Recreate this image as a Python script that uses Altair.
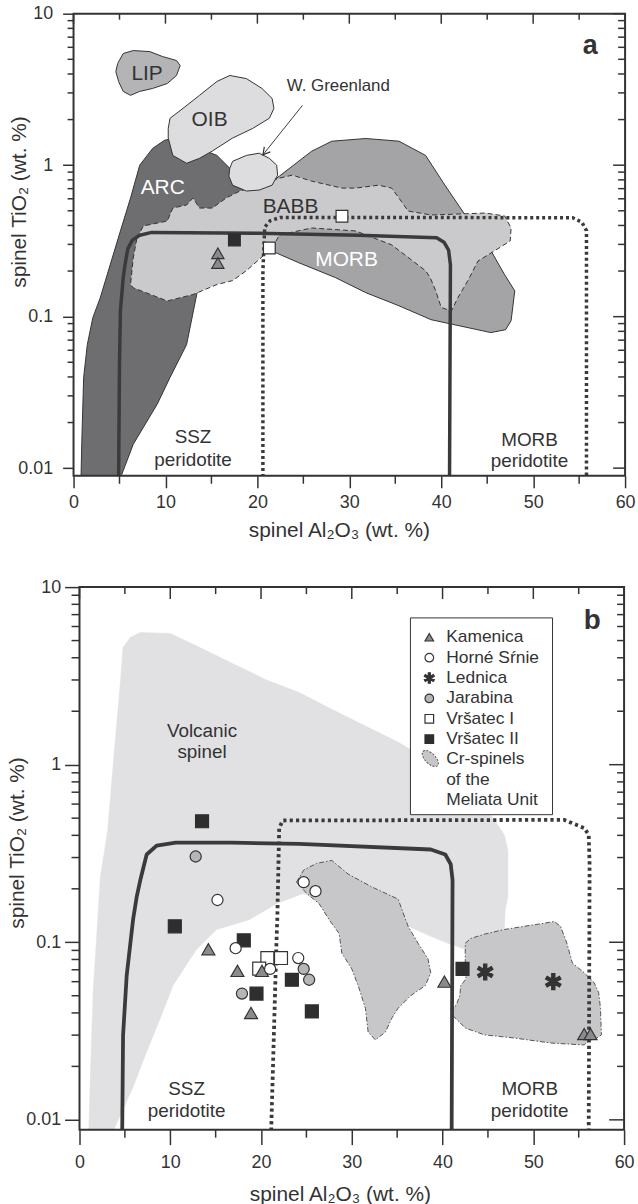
import math
import altair as alt
import pandas as pd

FONT = "Liberation Sans"
INK = "#333333"

# ---------------- axis structure ----------------
X_TICKS = [0, 10, 20, 30, 40, 50, 60]
X_MINOR = [5, 15, 25, 35, 45, 55]
Y_TICKS = [0.01, 0.1, 1, 10]
Y_MINOR = [0.02, 0.03, 0.04, 0.05, 0.06, 0.07, 0.08, 0.09,
           0.2, 0.3, 0.4, 0.5, 0.6, 0.7, 0.8, 0.9,
           2, 3, 4, 5, 6, 7, 8, 9]
X_TITLE = "spinel Al₂O₃ (wt. %)"
Y_TITLE = "spinel TiO₂ (wt. %)"

# ---------------- panel a: fields (Al2O3, TiO2) ----------------
ARC_X = [0.8, 4.9, 6.5, 9.1, 10.5, 12.3, 13.4, 14.3, 17.0, 19.1, 18.8, 17.3, 17.0, 15.6,
         13.7, 11.0, 9.9, 8.6, 7.2, 6.2, 5.1, 2.9, 2.1, 1.5, 1.1, 0.9]
ARC_Y = [0.008, 0.008, 0.0144, 0.0264, 0.0397, 0.0654, 0.14, 0.21, 0.385, 0.607, 0.675, 0.738, 0.955, 1.16,
         1.29, 1.51, 1.46, 1.29, 1.0, 0.607, 0.368, 0.133, 0.0985, 0.0654, 0.0397, 0.015]

MORBF_X = [19.1, 22.4, 25.9, 28.1, 31.8, 35.4, 38.3, 40.4, 42.6, 44.8, 46.9, 48.0, 47.6, 47.0,
           45.4, 38.9, 35.4, 31.8, 28.5, 24.5, 21.3, 19.7]
MORBF_Y = [0.607, 0.847, 1.236, 1.44, 1.50, 1.44, 1.16, 0.738, 0.469, 0.316, 0.189, 0.148, 0.0941, 0.082,
           0.0785, 0.0955, 0.118, 0.144, 0.181, 0.227, 0.276, 0.331]

BABB_X = [6.9, 7.6, 10.2, 10.8, 12.3, 13.0, 13.7, 15.1, 16.6, 18.1, 20.2, 22.4, 23.8, 25.9, 29.2, 30.7,
          33.2, 34.6, 35.4, 36.4, 38.9, 44.8, 46.9, 47.6, 47.5, 45.8, 44.0, 42.9, 41.8, 41.1, 40.0,
          39.4, 38.8, 38.3, 34.6, 30.7, 25.9, 22.4, 21.6, 18.8, 17.3, 15.6, 13.0, 10.2, 6.5, 6.2, 6.5]
BABB_Y = [0.331, 0.397, 0.428, 0.521, 0.546, 0.607, 0.521, 0.521, 0.607, 0.675, 0.738, 0.821, 0.86, 0.785,
          0.706, 0.706, 0.738, 0.706, 0.607, 0.498, 0.469, 0.483, 0.462, 0.385, 0.316, 0.272, 0.233,
          0.173, 0.133, 0.109, 0.115, 0.148, 0.181, 0.201, 0.298, 0.368, 0.385, 0.346, 0.284, 0.201,
          0.173, 0.163, 0.14, 0.127, 0.155, 0.163, 0.245]

OIB_X = [10.5, 11.9, 13.7, 15.6, 17.0, 18.8, 20.5, 21.6, 21.8, 21.3, 19.5, 17.3, 15.1, 13.7, 12.3, 10.8, 10.3, 10.3]
OIB_Y = [2.04, 2.37, 2.89, 3.57, 3.91, 3.73, 3.21, 2.76, 2.37, 2.04, 1.75, 1.51, 1.24, 1.11, 1.03, 1.16, 1.51, 1.75]

WGR_X = [17.0, 17.3, 18.8, 20.2, 21.3, 22.1, 22.2, 21.6, 20.2, 18.8, 17.3, 16.9]
WGR_Y = [0.955, 1.06, 1.16, 1.2, 1.11, 1.0, 0.859, 0.738, 0.685, 0.675, 0.738, 0.847]

LIP_X = [4.8, 5.4, 6.5, 8.3, 9.7, 11.2, 11.6, 11.2, 10.2, 8.6, 7.2, 6.2, 5.4, 4.9, 4.6]
LIP_Y = [4.69, 5.46, 5.71, 5.62, 5.21, 4.91, 4.55, 3.91, 3.46, 3.21, 3.07, 2.89, 3.07, 3.57, 4.15]

SSZ_A_X = [4.9, 5.0, 5.1, 5.4, 5.6, 5.9, 6.4, 7.2, 8.5, 20.0, 31.0, 39.5, 40.3, 40.8, 41.0, 40.9]
SSZ_A_Y = [0.008, 0.05, 0.11, 0.18, 0.22, 0.28, 0.32, 0.345, 0.36, 0.355, 0.345, 0.332, 0.31, 0.275, 0.22, 0.008]

MORB_A_X = [20.6, 20.6, 20.8, 21.4, 22.5, 54.3, 55.3, 55.8, 55.8]
MORB_A_Y = [0.008, 0.2, 0.39, 0.43, 0.452, 0.45, 0.42, 0.37, 0.008]

# panel a samples
A_KAM_X = [15.7, 15.7]
A_KAM_Y = [0.262, 0.226]
A_VR1_X = [21.3, 29.2]
A_VR1_Y = [0.284, 0.46]
A_VR2_X = [17.5]
A_VR2_Y = [0.321]

A_LABELS = ["LIP", "OIB", "ARC", "BABB", "MORB"]
A_LABEL_X = [8.0, 14.8, 9.7, 23.6, 29.7]
A_LABEL_Y = [3.97, 1.98, 0.706, 0.53, 0.237]
WGR_LABEL = "W. Greenland"
WGR_LABEL_XY = (28.8, 3.31)
WGR_ARROW_X = [24.9, 20.6]
WGR_ARROW_Y = [2.48, 1.17]

PER_LABELS = ["SSZ", "peridotite", "MORB", "peridotite"]
PER_A_X = [13.0, 13.0, 49.6, 49.6]
PER_A_Y = [0.016, 0.0113, 0.0153, 0.0112]
PER_B_X = [11.8, 11.8, 49.6, 49.6]
PER_B_Y = [0.0149, 0.0112, 0.0149, 0.0112]

# ---------------- panel b ----------------
VOLC_X = [4.8, 5.6, 6.7, 10.0, 13.2, 16.8, 20.6, 24.2, 27.8, 31.5, 35.1, 38.7, 42.5, 45.0, 46.8, 47.2,
          47.2, 46.9, 46.8, 42.5, 40.6, 38.7, 36.2, 31.5, 27.5, 24.5, 21.7, 18.7, 15.1, 12.9, 10.3, 8.9,
          7.4, 5.9, 3.4, 1.0, 1.2, 1.5, 2.3, 3.1, 3.7, 4.5]
VOLC_Y = [4.58, 5.21, 5.55, 5.48, 4.58, 3.73, 3.0, 2.55, 2.05, 1.65, 1.34, 1.04, 0.764, 0.548, 0.403, 0.329,
          0.18, 0.153, 0.112, 0.0914, 0.0987, 0.108, 0.123, 0.155, 0.18, 0.187, 0.165, 0.134, 0.118, 0.0914,
          0.057, 0.0373, 0.0242, 0.0153, 0.008, 0.008, 0.018, 0.052, 0.233, 0.425, 0.987, 2.89]

MEL1_X = [23.9, 24.7, 26.1, 27.8, 29.6, 32.2, 35.1, 36.2, 37.3, 38.4, 38.7, 38.1, 36.5, 35.1, 34.4, 33.7,
          32.6, 31.8, 31.5, 30.7, 30.0, 28.9, 28.6, 27.5, 26.4, 25.1]
MEL1_Y = [0.218, 0.255, 0.278, 0.289, 0.242, 0.205, 0.175, 0.123, 0.0987, 0.0805, 0.0673, 0.057, 0.0501,
          0.0425, 0.0373, 0.0312, 0.0282, 0.0312, 0.0425, 0.057, 0.0708, 0.0869, 0.112, 0.134, 0.165, 0.187]

MEL2_X = [42.5, 43.1, 44.6, 46.8, 49.0, 51.2, 52.3, 53.0, 53.7, 54.3, 55.6, 56.7, 57.2, 57.4, 57.5, 57.0,
          56.2, 55.6, 51.9, 47.9, 44.6, 42.5, 41.1, 40.9, 41.5, 41.9, 42.0, 42.6, 42.5, 42.5]
MEL2_Y = [0.0987, 0.105, 0.111, 0.118, 0.123, 0.128, 0.131, 0.123, 0.0987, 0.0764, 0.0673, 0.0592, 0.052,
          0.0425, 0.0301, 0.0289, 0.0282, 0.0264, 0.0271, 0.0289, 0.0301, 0.0329, 0.0388, 0.0425, 0.0441,
          0.0501, 0.057, 0.0623, 0.0673, 0.0805]

SSZ_B_X = [4.7, 4.8, 5.2, 5.9, 6.3, 6.7, 7.4, 8.5, 10.6, 16.8, 24.2, 38.7, 40.3, 40.9, 41.1, 41.0]
SSZ_B_Y = [0.008, 0.03, 0.065, 0.134, 0.18, 0.224, 0.312, 0.35, 0.364, 0.364, 0.358, 0.333, 0.312, 0.275, 0.224, 0.008]

MORB_B_X = [21.1, 21.7, 21.8, 22.0, 22.4, 53.4, 55.6, 56.1, 56.2, 56.1]
MORB_B_Y = [0.008, 0.1, 0.14, 0.44, 0.485, 0.489, 0.44, 0.403, 0.275, 0.008]

SITES = ["Kamenica", "Horné Sŕnie", "Lednica", "Jarabina", "Vršatec I", "Vršatec II"]
B_KAM_X = [14.2, 17.4, 20.1, 18.9, 40.2, 55.6, 56.3]
B_KAM_Y = [0.0914, 0.069, 0.069, 0.040, 0.060, 0.0304, 0.0304]
B_HOR_X = [15.2, 17.2, 21.0, 24.1, 24.7, 26.0]
B_HOR_Y = [0.173, 0.0926, 0.0708, 0.0815, 0.218, 0.194]
B_LED_X = [44.7, 52.2]
B_LED_Y = [0.068, 0.060]
B_JAR_X = [12.8, 17.9, 24.7, 25.3]
B_JAR_Y = [0.304, 0.0514, 0.0708, 0.0615]
B_VR1_X = [20.7, 22.2, 19.8]
B_VR1_Y = [0.0815, 0.0815, 0.071]
B_VR2_X = [13.5, 10.5, 18.1, 19.5, 23.4, 25.6, 42.2]
B_VR2_Y = [0.48, 0.123, 0.1025, 0.0514, 0.0615, 0.0408, 0.0708]

VOLC_LABELS = ["Volcanic", "spinel"]
VOLC_LABEL_X = [13.5, 13.5]
VOLC_LABEL_Y = [1.545, 1.18]
CR_LABELS = ["Cr-spinels", "of the", "Meliata Unit"]

# ---------------- styles ----------------
def star_path(w=0.2):
    parts = []
    for deg in (90, 30, -30):
        t = math.radians(deg)
        ux, uy = math.cos(t), math.sin(t)
        nx, ny = -uy * w, ux * w
        pts = [(ux + nx, uy + ny), (ux - nx, uy - ny), (-ux - nx, -uy - ny), (-ux + nx, -uy + ny)]
        parts.append("M " + " L ".join(f"{px:.3f} {py:.3f}" for px, py in pts) + " Z")
    return " ".join(parts)

STAR = star_path()
ELLIPSE = "M -1 0 A 1 0.5 0 1 1 1 0 A 1 0.5 0 1 1 -1 0 Z"
CHEVRON = "M -0.55 1 L 0 0 L 0.55 1"

SITE_STYLE = {
    "Kamenica": ("triangle-up", "#8b8b8d", INK),
    "Horné Sŕnie": ("circle", "#ffffff", INK),
    "Lednica": (STAR, INK, INK),
    "Jarabina": ("circle", "#b6b6b8", INK),
    "Vršatec I": ("square", "#ffffff", INK),
    "Vršatec II": ("square", "#2e2e2e", "#2e2e2e"),
}
SITE_ORDER = ["Vršatec I", "Vršatec II", "Kamenica", "Horné Sŕnie", "Jarabina", "Lednica"]


def xscale(x0=0, x1=None):
    if x1 is None:
        return alt.Scale(domain=[0, 60], nice=False, zero=False)
    return alt.Scale(domain=[0, 60], nice=False, zero=False, range=[x0, x1])


def yscale(lo):
    return alt.Scale(type="log", domain=[lo, 10], nice=False)


# data layers leave `axis` unspecified so the explicit axes of the tick layer win the merge
def XE(XS):
    return alt.X("x:Q", scale=XS)


def YE(YS):
    return alt.Y("y:Q", scale=YS)


def polygon(xs_, ys_, XS, YS, fill, stroke, sw=1.0, dash=None, interp="linear-closed"):
    df = pd.DataFrame({"x": xs_, "y": ys_, "o": list(range(len(xs_)))})
    kw = dict(fill=fill, stroke=stroke, strokeWidth=sw, interpolate=interp, clip=True,
              strokeJoin="round", opacity=1)
    if dash:
        kw["strokeDash"] = dash
    return alt.Chart(df).mark_line(**kw).encode(x=XE(XS), y=YE(YS), order="o:Q")


def path(xs_, ys_, XS, YS, sw, dash=None):
    df = pd.DataFrame({"x": xs_, "y": ys_, "o": list(range(len(xs_)))})
    kw = dict(color="#3a3a3a", strokeWidth=sw, clip=True, strokeJoin="round", interpolate="linear")
    if dash:
        kw["strokeDash"] = dash
        kw["strokeCap"] = "butt"
    return alt.Chart(df).mark_line(**kw).encode(x=XE(XS), y=YE(YS), order="o:Q")


def points(groups, XS, YS, sizes):
    rows = []
    for site in SITE_ORDER:
        if site not in groups:
            continue
        xs_, ys_ = groups[site]
        shp, fill, stroke = SITE_STYLE[site]
        for a, b in zip(xs_, ys_):
            rows.append({"x": a, "y": b, "site": site, "shp": shp, "fill": fill,
                         "stroke": stroke, "size": sizes[site]})
    df = pd.DataFrame(rows)
    return alt.Chart(df).mark_point(opacity=1, strokeWidth=1.2).encode(
        x=XE(XS), y=YE(YS),
        shape=alt.Shape("shp:N", scale=None), fill=alt.Fill("fill:N", scale=None),
        stroke=alt.Stroke("stroke:N", scale=None), size=alt.Size("size:Q", scale=None))


def texts(labels, xs_, ys_, XS, YS, size, color=INK, weight="normal", colors=None):
    df = pd.DataFrame({"x": xs_, "y": ys_, "t": labels})
    df["c"] = [colors.get(t, color) if colors else color for t in labels]
    return alt.Chart(df).mark_text(font=FONT, fontSize=size, fontWeight=weight, align="center",
                                   baseline="middle").encode(
        x=XE(XS), y=YE(YS), text="t:N", color=alt.Color("c:N", scale=None))


def frame_ticks(x0, x1, H, XS, YS, t):
    """Axes (left/bottom, with labels) plus tick rules on all four sides of the frame x0..x1."""
    ax_y = alt.Axis(values=Y_TICKS, format="~g", tickSize=t["yM"], tickWidth=1.5, tickColor=INK,
                    labelPadding=t["ypad"], labelFontSize=t["lab"], labelColor=INK, labelFont=FONT,
                    domain=False, grid=False, labelOverlap=False, labelFlush=False,
                    title=Y_TITLE, titleFont=FONT, titleFontSize=t["tit"], titleFontWeight="normal",
                    titleColor=INK, titleX=t["ytx"], titleY=t["yty"], titleBaseline="middle",
                    titleAngle=270, orient="left", offset=-x0)
    ax_x = alt.Axis(values=X_TICKS, format="d", tickSize=t["xM"], tickWidth=1.5, tickColor=INK,
                    labelPadding=t["xpad"], labelFontSize=t["lab"], labelColor=INK, labelFont=FONT,
                    domain=False, grid=False, labelOverlap=False, labelFlush=False,
                    title=X_TITLE, titleFont=FONT, titleFontSize=t["tit"], titleFontWeight="normal",
                    titleColor=INK, titleX=t["xtx"], titleY=t["xty"], titleBaseline="alphabetic",
                    orient="bottom")
    rule = dict(color=INK, strokeWidth=1.5)
    ym = pd.DataFrame({"y": Y_MINOR})
    yM = pd.DataFrame({"y": Y_TICKS})
    xm = pd.DataFrame({"x": X_MINOR})
    xM = pd.DataFrame({"x": X_TICKS})
    return [
        alt.Chart(pd.DataFrame({"a": [0]})).mark_rect(fillOpacity=0, stroke=INK, strokeWidth=2).encode(
            x=alt.value(x0), x2=alt.value(x1), y=alt.value(0), y2=alt.value(H)),
        alt.Chart(yM).mark_rule(**rule).encode(y=alt.Y("y:Q", scale=YS, axis=ax_y),
                                                x=alt.value(x1 - t["rM"]), x2=alt.value(x1)),
        alt.Chart(ym).mark_rule(**rule).encode(y=YE(YS), x=alt.value(x1 - t["rm"]), x2=alt.value(x1)),
        alt.Chart(ym).mark_rule(**rule).encode(y=YE(YS), x=alt.value(x0 - t["ym"]), x2=alt.value(x0)),
        alt.Chart(xM).mark_rule(**rule).encode(x=alt.X("x:Q", scale=XS, axis=ax_x),
                                                y=alt.value(0), y2=alt.value(t["tM"])),
        alt.Chart(xm).mark_rule(**rule).encode(x=XE(XS), y=alt.value(0), y2=alt.value(t["tm"])),
        alt.Chart(xm).mark_rule(**rule).encode(x=XE(XS), y=alt.value(H), y2=alt.value(H + t["bm"])),
    ]


NO_VIEW = alt.ViewBackground(stroke="transparent")

# ---------------- panel a ----------------
WA, HA = 555, 465
XSA, YSA = xscale(), yscale(0.0089)
layers_a = [
    polygon(ARC_X, ARC_Y, XSA, YSA, "#6e6e70", INK),
    polygon(MORBF_X, MORBF_Y, XSA, YSA, "#a4a4a6", INK),
    polygon(BABB_X, BABB_Y, XSA, YSA, "#cacacc", INK, dash=[5, 3]),
    polygon(OIB_X, OIB_Y, XSA, YSA, "#dddddf", INK),
    polygon(WGR_X, WGR_Y, XSA, YSA, "#dddddf", INK),
    polygon(LIP_X, LIP_Y, XSA, YSA, "#b4b4b6", INK),
    path(SSZ_A_X, SSZ_A_Y, XSA, YSA, 3.5),
    path(MORB_A_X, MORB_A_Y, XSA, YSA, 3.5, dash=[3, 3]),
    path(WGR_ARROW_X, WGR_ARROW_Y, XSA, YSA, 1.0),
    alt.Chart(pd.DataFrame({"x": WGR_ARROW_X[1:], "y": WGR_ARROW_Y[1:]})).mark_point(
        shape=CHEVRON, angle=219, size=200, filled=False, stroke=INK, strokeWidth=1.2, opacity=1).encode(
        x=XE(XSA), y=YE(YSA)),
    points({"Kamenica": (A_KAM_X, A_KAM_Y), "Vršatec I": (A_VR1_X, A_VR1_Y),
            "Vršatec II": (A_VR2_X, A_VR2_Y)}, XSA, YSA,
           {"Kamenica": 150, "Vršatec I": 140, "Vršatec II": 140}),
    texts(A_LABELS, A_LABEL_X, A_LABEL_Y, XSA, YSA, 21, colors={"ARC": "white", "MORB": "white"}),
    texts([WGR_LABEL], [WGR_LABEL_XY[0]], [WGR_LABEL_XY[1]], XSA, YSA, 17),
    texts(PER_LABELS, PER_A_X, PER_A_Y, XSA, YSA, 19),
    texts(["a"], [56.2], [6.07], XSA, YSA, 27, weight="bold"),
] + frame_ticks(0, WA, HA, XSA, YSA, dict(yM=11, ym=6, rM=12, rm=7, xM=12, tM=10, tm=6, bm=8,
                                           ypad=10, xpad=6, lab=18, tit=21,
                                           ytx=-54, yty=189, xtx=267, xty=61))
panel_a = alt.layer(*layers_a).properties(width=WA, height=HA, view=NO_VIEW)

# ---------------- panel b ----------------
OFF_B = 6                     # panel b's frame sits 6 px right of panel a's
WB, HB = 548, 546
XSB, YSB = xscale(OFF_B, OFF_B + WB), yscale(0.0088)

LEG_BOX = (OFF_B + 333, 31, OFF_B + 476, 229)
LEG_TOP, LEG_STEP, LEG_SYM_X, LEG_TXT_X = 50.5, 20.5, OFF_B + 352, OFF_B + 369

leg_df = pd.DataFrame({"t": SITES, "row": list(range(len(SITES)))})
leg_df["shp"] = [SITE_STYLE[s][0] for s in SITES]
leg_df["fill"] = [SITE_STYLE[s][1] for s in SITES]
leg_df["stroke"] = [SITE_STYLE[s][2] for s in SITES]
leg_df["size"] = [75 if SITE_STYLE[s][0] != STAR else 110 for s in SITES]
cr_df = pd.DataFrame({"t": CR_LABELS, "row": [len(SITES) + i for i in range(len(CR_LABELS))]})

legend_layers = [
    alt.Chart(pd.DataFrame({"a": [0]})).mark_rect(fill="white", stroke=INK, strokeWidth=1).encode(
        x=alt.value(LEG_BOX[0]), y=alt.value(LEG_BOX[1]), x2=alt.value(LEG_BOX[2]), y2=alt.value(LEG_BOX[3])),
    alt.Chart(leg_df).transform_calculate(py=f"{LEG_TOP} + datum.row * {LEG_STEP}").mark_point(
        opacity=1, strokeWidth=1.2).encode(
        x=alt.value(LEG_SYM_X), y=alt.Y("py:Q", scale=None, axis=None),
        shape=alt.Shape("shp:N", scale=None), fill=alt.Fill("fill:N", scale=None),
        stroke=alt.Stroke("stroke:N", scale=None), size=alt.Size("size:Q", scale=None)),
    alt.Chart(pd.concat([leg_df[["t", "row"]], cr_df])).transform_calculate(
        py=f"{LEG_TOP} + datum.row * {LEG_STEP}").mark_text(
        font=FONT, fontSize=17.5, align="left", baseline="middle", color=INK).encode(
        x=alt.value(LEG_TXT_X), y=alt.Y("py:Q", scale=None, axis=None), text="t:N"),
    alt.Chart(pd.DataFrame({"a": [0]})).transform_calculate(py=f"{LEG_TOP} + 6 * {LEG_STEP} - 1").mark_point(
        shape=ELLIPSE, angle=45, size=420, filled=True, fill="#c6c6c8", stroke="#555555",
        strokeWidth=1, strokeDash=[2, 1.5], opacity=1).encode(
        x=alt.value(LEG_SYM_X + 1), y=alt.Y("py:Q", scale=None, axis=None)),
]

layers_b = [
    polygon(VOLC_X, VOLC_Y, XSB, YSB, "#e1e1e3", "#e1e1e3", sw=0.5),
    polygon(MEL1_X, MEL1_Y, XSB, YSB, "#c7c7c9", "#555555", dash=[5, 2, 1.5, 2]),
    polygon(MEL2_X, MEL2_Y, XSB, YSB, "#c7c7c9", "#555555", dash=[5, 2, 1.5, 2]),
    path(SSZ_B_X, SSZ_B_Y, XSB, YSB, 3.8),
    path(MORB_B_X, MORB_B_Y, XSB, YSB, 3.8, dash=[3.2, 3.2]),
    points({"Kamenica": (B_KAM_X, B_KAM_Y), "Horné Sŕnie": (B_HOR_X, B_HOR_Y),
            "Lednica": (B_LED_X, B_LED_Y), "Jarabina": (B_JAR_X, B_JAR_Y),
            "Vršatec I": (B_VR1_X, B_VR1_Y), "Vršatec II": (B_VR2_X, B_VR2_Y)}, XSB, YSB,
           {"Kamenica": 170, "Horné Sŕnie": 125, "Lednica": 260, "Jarabina": 125,
            "Vršatec I": 170, "Vršatec II": 170}),
    texts(VOLC_LABELS, VOLC_LABEL_X, VOLC_LABEL_Y, XSB, YSB, 19),
    texts(PER_LABELS, PER_B_X, PER_B_Y, XSB, YSB, 19),
    texts(["b"], [56.5], [6.47], XSB, YSB, 28, weight="bold"),
] + legend_layers + frame_ticks(OFF_B, OFF_B + WB, HB, XSB, YSB,
                                dict(yM=15, ym=8, rM=15, rm=7, xM=15, tM=12, tm=7, bm=8,
                                     ypad=4, xpad=9, lab=18, tit=21,
                                     ytx=-62, yty=257, xtx=268, xty=71))
panel_b = alt.layer(*layers_b).properties(width=OFF_B + WB, height=HB, view=NO_VIEW)

chart = alt.vconcat(panel_a, panel_b, spacing=36).properties(
    padding={"left": 6, "top": 0, "right": 2, "bottom": 0}
).configure(font=FONT)

chart.save("out.html", embed_options={"renderer": "svg", "actions": False})
